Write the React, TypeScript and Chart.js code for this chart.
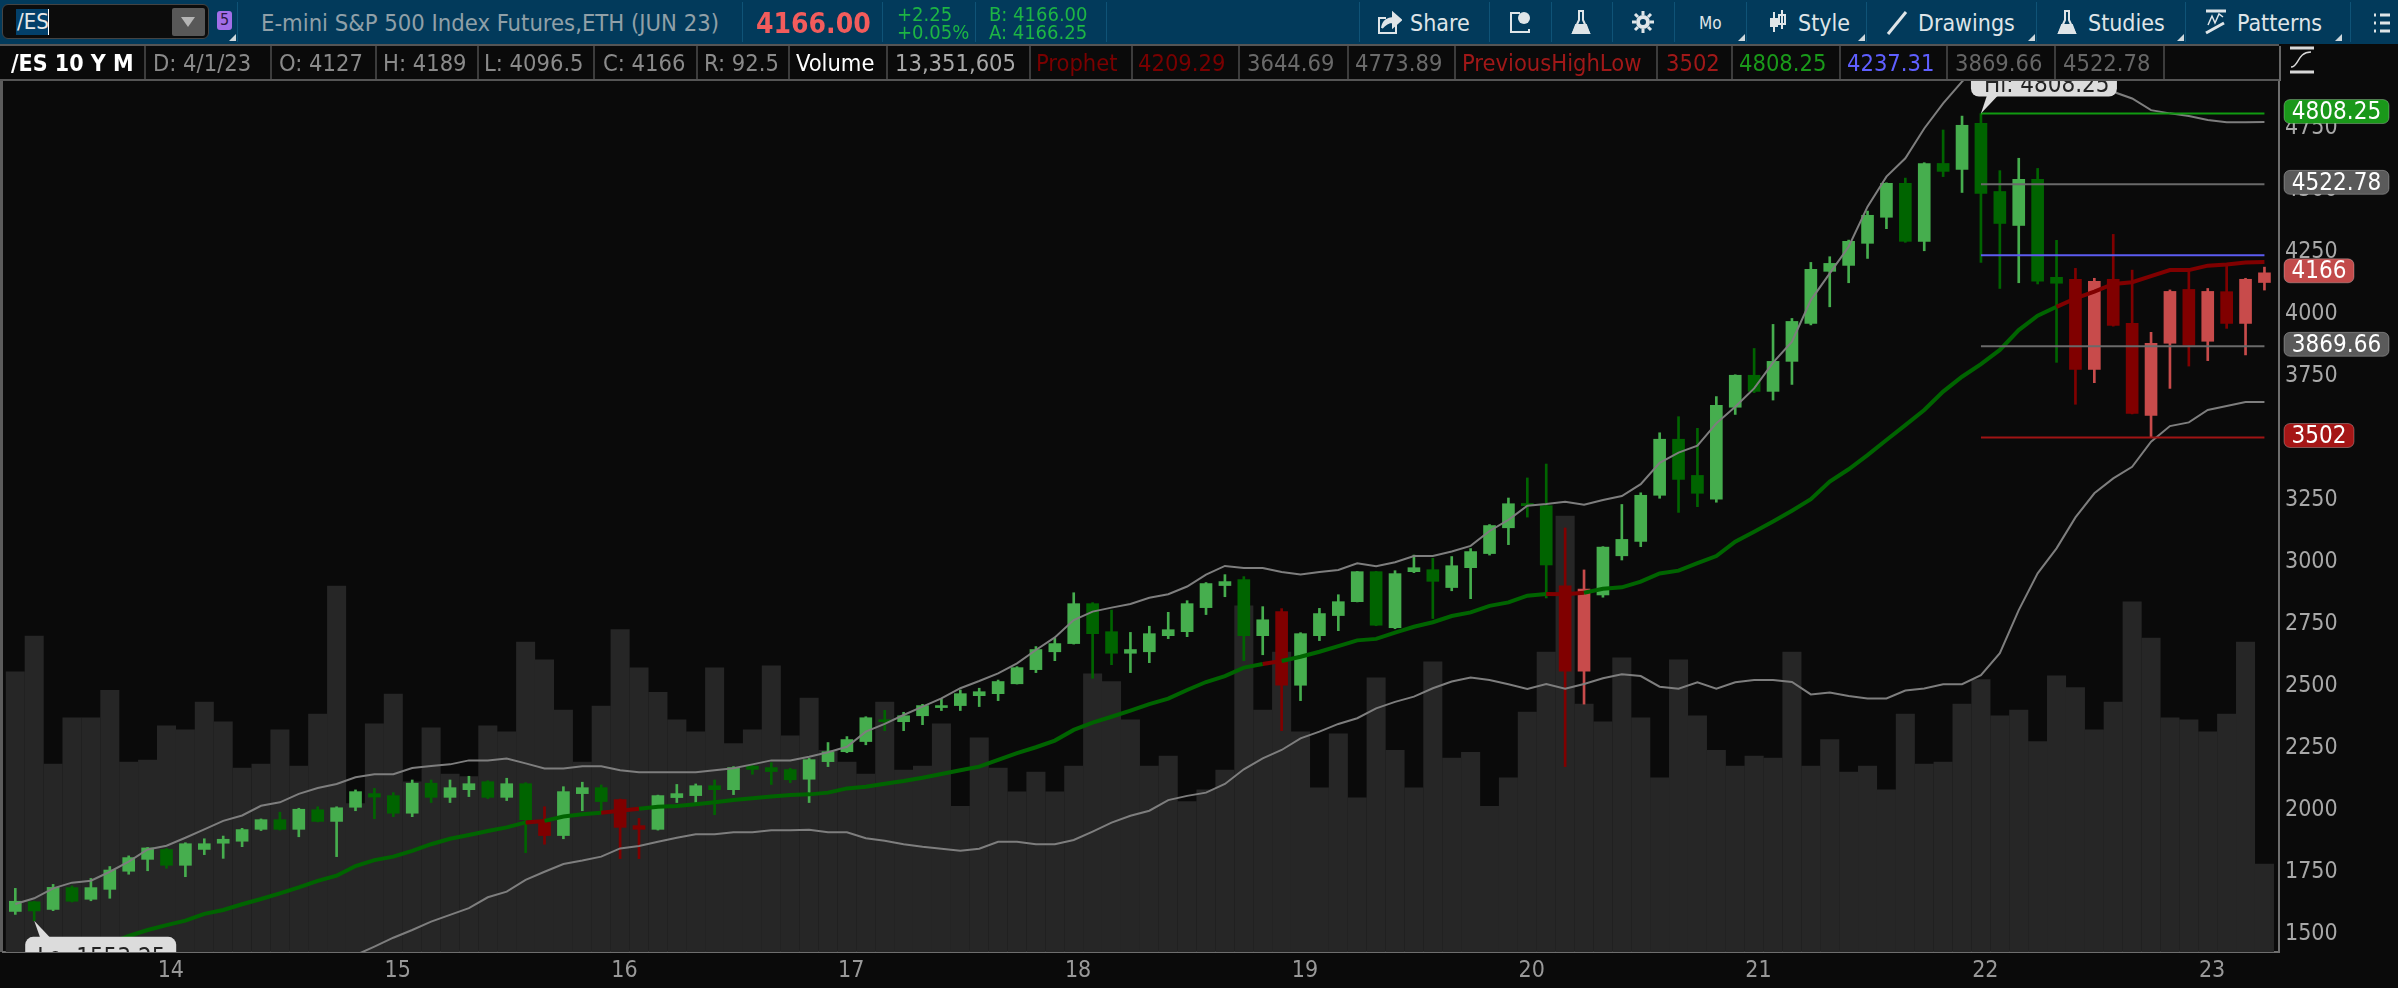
import React, { useEffect, useRef } from "react";
import { Chart, registerables } from "chart.js";

Chart.register(...registerables);

const opens = [
  1591,1630,1599,1687,1640,1680,1753,1801,1841,1777,
  1841,1866,1874,1922,1961,1922,2001,1954,2011,2066,
  2058,1987,2108,2051,2082,2114,2051,2106,1950,1897,
  2066,2090,2042,1937,1922,2050,2058,2098,2082,2177,
  2171,2163,2124,2195,2235,2276,2364,2356,2380,2413,
  2421,2461,2469,2509,2566,2638,2671,2832,2719,2632,
  2638,2703,2719,2816,2905,2929,2703,2800,2503,2703,
  2784,2840,2961,2735,2961,2969,2897,2977,3034,3138,
  3236,3227,2904,2560,2867,3025,3083,3269,3495,3349,
  3253,3624,3753,3688,3809,3962,4172,4196,4285,4390,
  4527,4293,4607,4583,4769,4494,4357,4543,4148,4140,
  3777,4140,3962,3591,3882,4099,3890,4090,3962,4127,
];
const highs = [
  1684,1632,1700,1694,1724,1772,1815,1849,1845,1868,
  1884,1895,1926,1964,1991,2007,2013,2013,2081,2087,
  2070,2121,2121,2121,2136,2118,2128,2110,2013,2094,
  2112,2101,2044,1966,2060,2103,2105,2121,2175,2181,
  2191,2168,2208,2272,2296,2376,2402,2394,2426,2448,
  2484,2491,2524,2578,2659,2692,2876,2836,2806,2716,
  2741,2797,2844,2917,2949,2941,2820,2812,2715,2813,
  2868,2962,2962,2965,3028,3015,3022,3054,3151,3258,
  3339,3395,3137,2968,3062,3232,3279,3521,3586,3539,
  3667,3755,3861,3958,3982,4208,4231,4298,4415,4529,
  4548,4610,4742,4798,4808.25,4578,4628,4587,4297,4184,
  4144,4321,4177,3926,4097,4175,4103,4193,4144,4189,
];
const lows = [
  1579,1553.25,1594,1629,1634,1644,1741,1755,1765,1731,
  1820,1805,1852,1917,1919,1892,1952,1812,1997,1965,
  1973,1973,2030,2030,2054,2046,2038,1828,1862,1884,
  1997,1987,1804,1804,1919,2030,2031,1981,2062,2144,
  2103,2110,2030,2175,2231,2263,2320,2320,2344,2401,
  2401,2417,2441,2508,2554,2602,2669,2531,2586,2554,
  2594,2691,2699,2788,2860,2602,2626,2320,2441,2683,
  2723,2839,2743,2731,2957,2772,2884,2852,3028,3070,
  3181,2855,2175,2427,2858,3008,3062,3257,3200,3223,
  3241,3595,3683,3653,3716,3956,4029,4126,4224,4344,
  4289,4255,4554,4490,4208,4103,4126,4121,3805,3636,
  3723,3951,3597,3502,3700,3790,3812,3942,3835,4096.5,
];
const closes = [
  1632,1593,1688,1632,1687,1758,1808,1847,1777,1864,
  1864,1882,1921,1961,1922,2003,1954,2009,2074,2052,
  1987,2108,2051,2090,2106,2051,2106,1961,1897,2074,
  2090,2034,1930,1922,2058,2066,2098,2082,2171,2164,
  2155,2122,2203,2235,2284,2372,2356,2380,2421,2421,
  2469,2477,2518,2574,2647,2671,2832,2711,2632,2647,
  2711,2727,2832,2913,2921,2703,2767,2503,2711,2792,
  2840,2961,2745,2953,2977,2922,2985,3042,3147,3235,
  3227,2988,2560,2891,3060,3091,3269,3495,3333,3277,
  3632,3753,3688,3809,3970,4180,4204,4293,4398,4527,
  4293,4607,4575,4761,4486,4365,4543,4132,4124,3777,
  4132,3954,3599,3882,4091,3874,4091,3962,4140,4166,
];
const volumes = [
  42.5,47.9,28.5,35.5,35.5,39.7,28.8,29.1,34.3,33.7,
  37.9,34.9,27.9,28.5,33.7,28.2,36.1,55.5,22.5,34.6,
  39.1,25.8,34.0,27.0,26.6,34.3,33.4,47.0,44.3,36.7,
  28.8,37.3,48.9,43.1,39.4,35.2,33.4,43.1,31.6,33.7,
  43.4,32.8,38.5,30.6,28.8,27.0,37.9,27.6,28.2,34.6,
  22.1,32.5,27.9,24.3,27.3,24.3,28.2,42.2,41.0,35.2,
  28.2,29.7,22.8,24.6,27.6,52.5,36.7,45.5,33.4,24.9,
  33.1,23.4,41.6,30.6,24.9,44.0,29.4,30.3,22.1,26.4,
  36.4,45.5,66.1,37.6,34.9,44.6,35.5,26.4,44.3,35.8,
  30.6,28.2,29.7,29.4,45.5,28.2,32.2,27.3,28.2,24.6,
  36.1,28.5,28.8,37.6,41.3,35.8,36.7,31.9,41.9,40.1,
  33.7,37.9,53.1,47.6,35.5,35.2,33.4,36.1,47.0,13.351605,
];
const upperBand = [
  1621,1644,1684,1707,1715,1751,1792,1841,1856,1888,
  1922,1956,1978,2017,2031,2065,2089,2105,2132,2144,
  2144,2169,2177,2184,2200,2200,2208,2188,2167,2167,
  2176,2176,2160,2152,2152,2152,2152,2160,2168,2184,
  2200,2200,2215,2233,2255,2316,2347,2383,2417,2450,
  2491,2520,2551,2591,2645,2696,2766,2800,2816,2831,
  2856,2870,2901,2949,2984,2976,2976,2960,2950,2960,
  2968,2995,2983,2999,3024,3024,3042,3065,3125,3170,
  3227,3234,3243,3231,3250,3266,3314,3400,3441,3469,
  3559,3626,3700,3804,3888,4056,4164,4271,4433,4554,
  4628,4748,4849,4937,5010,5070,5100,5110,5090,5050,
  4990,4896,4869,4822,4809,4798,4782,4773,4773,4773.89,
];
const midBand = [
  1375,1395,1409,1425,1442,1462,1492,1516,1536,1554,
  1581,1597,1620,1641,1664,1688,1714,1735,1774,1798,
  1812,1835,1862,1884,1899,1915,1930,1950,1956,1974,
  1983,1989,1997,2005,2013,2016,2023,2031,2040,2047,
  2054,2060,2063,2070,2087,2094,2106,2117,2130,2145,
  2160,2175,2202,2229,2253,2280,2323,2352,2376,2401,
  2427,2449,2484,2516,2540,2574,2589,2601,2618,2638,
  2661,2684,2690,2715,2739,2757,2782,2797,2823,2837,
  2864,2871,2870,2876,2892,2898,2921,2954,2965,2995,
  3024,3082,3122,3163,3207,3253,3324,3374,3431,3492,
  3552,3613,3687,3747,3798,3855,3935,3993,4029,4063,
  4090,4121,4128,4153,4177,4177,4195,4200,4208,4209.29,
];
const lowerBand = [
  1129,1146,1134,1143,1169,1173,1192,1191,1216,1220,
  1240,1238,1262,1265,1297,1311,1339,1365,1415,1449,
  1485,1516,1550,1577,1604,1648,1671,1718,1751,1782,
  1796,1812,1845,1855,1872,1888,1902,1902,1910,1910,
  1918,1918,1920,1910,1910,1886,1876,1862,1852,1844,
  1836,1844,1872,1872,1862,1862,1879,1913,1949,1977,
  1997,2040,2057,2070,2105,2164,2208,2242,2289,2316,
  2347,2370,2410,2436,2457,2491,2518,2534,2524,2507,
  2488,2508,2489,2508,2531,2547,2540,2497,2489,2515,
  2489,2515,2524,2524,2516,2466,2474,2460,2450,2450,
  2482,2490,2507,2507,2544,2632,2806,2954,3055,3180,
  3277,3337,3384,3485,3548,3563,3613,3629,3645,3644.69,
];
const redMonths = [28,32,33,67,82,83,109,110,111,112,113,114,115,116,117,118,119];
const priceTicks = [1500,1750,2000,2250,2500,2750,3000,3250,3500,3750,4000,4250,4500,4750];
const yearLabels = ["14","15","16","17","18","19","20","21","22","23"];
const yearStartIndex = [8,20,32,44,56,68,80,92,104,116];
const levelValues = [4808.25, 4522.78, 4237.31, 3869.66, 3502];
const levelColors = ["#109a10", "#6a6a6a", "#5c5cf0", "#6a6a6a", "#a01414"];
const levelFrom = 104;
const tagValues = [4808.25, 4522.78, 4166, 3869.66, 3502];
const tagTexts = ["4808.25", "4522.78", "4166", "3869.66", "3502"];
const tagColors = ["#1a981a", "#5a5a5a", "#c24a4a", "#5a5a5a", "#a51616"];

const FONT = '"DejaVu Sans Condensed", "DejaVu Sans", sans-serif';
const LIGHT_GREEN = "#46ae4e";
const DARK_GREEN = "#006400";
const DARK_RED = "#800000";
const LIGHT_RED = "#c84b4b";

const isRed = (i: number) => redMonths.includes(i);
const candleColor = (i: number) => {
  const up = closes[i] >= opens[i];
  if (isRed(i)) return up ? LIGHT_RED : DARK_RED;
  return up ? LIGHT_GREEN : DARK_GREEN;
};

function roundRect(c: CanvasRenderingContext2D, x: number, y: number, w: number, h: number, r: number) {
  c.beginPath();
  c.moveTo(x + r, y);
  c.arcTo(x + w, y, x + w, y + h, r);
  c.arcTo(x + w, y + h, x, y + h, r);
  c.arcTo(x, y + h, x, y, r);
  c.arcTo(x, y, x + w, y, r);
  c.closePath();
}

const chromePlugin = {
  id: "chrome",
  beforeDraw(chart: any) {
    const c = chart.ctx;
    c.save();
    c.fillStyle = "#0a0a0a";
    c.fillRect(0, 0, chart.width, chart.height);
    const a = chart.chartArea;
    c.fillStyle = "#5c5c5c";
    c.fillRect(0, a.top, 3, a.bottom - a.top);
    c.restore();
  },
  afterDatasetsDraw(chart: any) {
    const c = chart.ctx;
    const a = chart.chartArea;
    const xs = chart.scales.x;
    const ys = chart.scales.y;
    c.save();
    c.beginPath();
    c.rect(a.left, a.top, a.right - a.left, a.bottom - a.top);
    c.clip();
    const hiI = highs.indexOf(Math.max(...highs));
    const loI = lows.indexOf(Math.min(...lows));
    const hx = xs.getPixelForValue(hiI);
    const hy = ys.getPixelForValue(highs[hiI]);
    const lx = xs.getPixelForValue(loI);
    const ly = ys.getPixelForValue(lows[loI]);
    c.fillStyle = "#dcdcdc";
    roundRect(c, hx - 10, hy - 47, 146, 30, 8);
    c.fill();
    c.beginPath();
    c.moveTo(hx, hy);
    c.lineTo(hx + 6, hy - 18);
    c.lineTo(hx + 17, hy - 18);
    c.fill();
    roundRect(c, lx - 9, ly + 16, 151, 32, 8);
    c.fill();
    c.beginPath();
    c.moveTo(lx, ly);
    c.lineTo(lx + 6, ly + 17);
    c.lineTo(lx + 16, ly + 17);
    c.fill();
    c.fillStyle = "#222";
    c.font = `24px ${FONT}`;
    c.textAlign = "left";
    c.textBaseline = "alphabetic";
    c.fillText(`Hi: ${highs[hiI]}`, hx + 3, hy - 22);
    c.fillText(`Lo: ${lows[loI]}`, lx + 3, ly + 44);
    c.restore();
  },
  afterDraw(chart: any) {
    const c = chart.ctx;
    const ys = chart.scales.y;
    c.save();
    c.font = `24px ${FONT}`;
    c.textAlign = "center";
    c.textBaseline = "middle";
    tagValues.forEach((v, i) => {
      const cy = ys.getPixelForValue(v) - 2;
      const w = tagTexts[i].length > 4 ? 105 : 70;
      c.fillStyle = tagColors[i];
      roundRect(c, 2284, cy - 12, w, 24, 6);
      c.fill();
      c.strokeStyle = "rgba(255,255,255,0.28)";
      c.lineWidth = 1;
      c.stroke();
      c.fillStyle = "#ffffff";
      c.fillText(tagTexts[i], 2284 + w / 2, cy + 1);
    });
    c.restore();
  },
};

const at = (i: number, y: number | number[]) => ({ x: i, y });

function T({ x, y, size = 23.5, color = "#8a8a8a", weight = 400, children, w }: any) {
  return (
    <div
      style={{
        position: "absolute",
        left: x,
        top: y - 20,
        height: 40,
        lineHeight: "40px",
        fontSize: size,
        color,
        fontWeight: weight,
        fontFamily: FONT,
        whiteSpace: "nowrap",
        width: w,
      }}
    >
      {children}
    </div>
  );
}

const Box = ({ x, y, w, h, bg, r, extra }: any) => (
  <div style={{ position: "absolute", left: x, top: y, width: w, height: h, background: bg, borderRadius: r, ...extra }} />
);

const Corner = ({ x }: any) => (
  <svg style={{ position: "absolute", left: x, top: 34 }} width="7" height="7">
    <path d="M7 0 L7 7 L0 7 Z" fill="#cfd8dc" />
  </svg>
);

const Icon = ({ x, y, w, h, children }: any) => (
  <svg
    style={{ position: "absolute", left: x, top: y }}
    width={w}
    height={h}
    viewBox={`0 0 ${w} ${h}`}
    fill="none"
    stroke="#dfe5e8"
    strokeWidth="2"
  >
    {children}
  </svg>
);

const topDividers = [237, 742, 882, 975, 1106, 1359, 1489, 1551, 1612, 1674, 1746, 1866, 2036, 2185, 2350];
const cellDividers = [144, 270, 375, 477, 593, 696, 788, 886, 1029, 1131, 1238, 1347, 1454, 1656, 1731, 1839, 1946, 2054, 2163];

function Header() {
  return (
    <>
      <Box x={0} y={0} w={2398} h={44} bg="#023a5b" />
      <Box x={0} y={44} w={2279} h={2} bg="#555" />
      <Box x={0} y={79} w={2279} h={2} bg="#555" />
      {topDividers.map((x) => (
        <Box key={x} x={x} y={2} w={1} h={40} bg="#0f5377" />
      ))}
      {cellDividers.map((x) => (
        <Box key={x} x={x} y={46} w={2} h={33} bg="#3c3c3c" />
      ))}
      <Box x={2279} y={46} w={2} h={35} bg="#666" />

      <Box x={2} y={4} w={207} h={35} bg="#0c0c0c" r={6} extra={{ border: "1px solid #444", boxSizing: "border-box" }} />
      <Box x={16} y={9} w={33} h={26} bg="#03406a" />
      <Box x={48} y={9} w={1} h={26} bg="#fff" />
      <T x={17} y={22} size={22} color="#e8e8e8">/ES</T>
      <Box x={172} y={8} w={33} h={28} bg="#585858" r={2} />
      <svg style={{ position: "absolute", left: 181, top: 17 }} width="14" height="10">
        <path d="M0 0 L14 0 L7 10 Z" fill="#b5b5b5" />
      </svg>
      <Box x={217} y={11} w={15} h={19} bg="#a26ee8" r={3} />
      <T x={220} y={20} size={16} color="#2a1846">5</T>
      <Corner x={229} />

      <T x={261} y={23} size={23.6} color="#90a0a8">E-mini S&amp;P 500 Index Futures,ETH (JUN 23)</T>
      <T x={756} y={24} size={28} weight={700} color="#f25c5c">4166.00</T>
      <T x={897} y={14} size={20} color="#1db544">+2.25</T>
      <T x={897} y={32} size={20} color="#1db544">+0.05%</T>
      <T x={989} y={14} size={20} color="#1db544">B: 4166.00</T>
      <T x={989} y={32} size={20} color="#1db544">A: 4166.25</T>

      <Icon x={1376} y={10} w={26} h={26}>
        <path d="M20 15 V23 H3 V8 H10" />
        <path d="M6 18 C7 11 12 8 17 8 V3 L25 10 L17 17 V12 C13 12 9 14 6 18 Z" fill="#dfe5e8" />
      </Icon>
      <T x={1410} y={23} size={23} color="#dfe5e8">Share</T>
      <Icon x={1508} y={9} w={24} h={26}>
        <path d="M12 4 H3 V23 H21 V20" />
        <circle cx="16" cy="9" r="6" fill="#dfe5e8" stroke="none" />
      </Icon>
      <Icon x={1570} y={8} w={22} h={28}>
        <path d="M8 3 H14 M9 3 V12 L3 25 H19 L13 12 V3" />
        <path d="M6 17 H16 L19 25 H3 Z" fill="#dfe5e8" />
      </Icon>
      <Icon x={1631} y={10} w={24} h={24}>
        <circle cx="12" cy="12" r="5" strokeWidth="4" />
        <path d="M12 1 V5 M12 19 V23 M1 12 H5 M19 12 H23 M4 4 L7 7 M17 17 L20 20 M20 4 L17 7 M7 17 L4 20" strokeWidth="3" />
      </Icon>
      <T x={1699} y={23} size={17} color="#dfe5e8">Mo</T>
      <Corner x={1738} />
      <Icon x={1768} y={9} w={20} h={26}>
        <path d="M6 3 V23 M14 1 V20" />
        <rect x="2" y="9" width="8" height="9" fill="#dfe5e8" stroke="none" />
        <rect x="11" y="6" width="6" height="9" />
      </Icon>
      <T x={1798} y={23} size={23} color="#dfe5e8">Style</T>
      <Corner x={1858} />
      <Icon x={1886} y={11} w={22} h={24}>
        <path d="M2 23 L20 1" strokeWidth="3" />
      </Icon>
      <T x={1918} y={23} size={23} color="#dfe5e8">Drawings</T>
      <Corner x={2028} />
      <Icon x={2056} y={8} w={22} h={28}>
        <path d="M8 3 H14 M9 3 V12 L3 25 H19 L13 12 V3" />
        <path d="M6 17 H16 L19 25 H3 Z" fill="#dfe5e8" />
      </Icon>
      <T x={2088} y={23} size={23} color="#dfe5e8">Studies</T>
      <Corner x={2177} />
      <Icon x={2204} y={9} w={24} h={26}>
        <path d="M2 2 H22" strokeWidth="3" />
        <path d="M4 16 L8 7 L11 14 L15 5 L19 8" strokeWidth="1.5" />
        <path d="M2 24 L20 14" strokeWidth="3" />
      </Icon>
      <T x={2237} y={23} size={23} color="#dfe5e8">Patterns</T>
      <Corner x={2335} />
      <Icon x={2372} y={12} w={20} h={22}>
        <path d="M2 3 H4 M8 3 H18 M2 11 H4 M8 11 H18 M2 19 H4 M8 19 H18" strokeWidth="3" />
      </Icon>

      <T x={11} y={63} size={23} weight={700} color="#ffffff">/ES 10 Y M</T>
      <T x={153} y={63}>D: 4/1/23</T>
      <T x={279} y={63}>O: 4127</T>
      <T x={383} y={63}>H: 4189</T>
      <T x={484} y={63}>L: 4096.5</T>
      <T x={603} y={63}>C: 4166</T>
      <T x={704} y={63}>R: 92.5</T>
      <T x={796} y={63} color="#ffffff">Volume</T>
      <T x={895} y={63} color="#a8a8a8">13,351,605</T>
      <T x={1036} y={63} color="#7a0000">Prophet</T>
      <T x={1138} y={63} color="#7a0000">4209.29</T>
      <T x={1247} y={63} color="#6a6a6a">3644.69</T>
      <T x={1355} y={63} color="#6a6a6a">4773.89</T>
      <T x={1462} y={63} color="#a01818">PreviousHighLow</T>
      <T x={1666} y={63} color="#a01818">3502</T>
      <T x={1739} y={63} color="#1a9a1a">4808.25</T>
      <T x={1847} y={63} color="#5f5fff">4237.31</T>
      <T x={1955} y={63} color="#666">3869.66</T>
      <T x={2063} y={63} color="#666">4522.78</T>

      <svg style={{ position: "absolute", left: 2289, top: 45 }} width="27" height="30" fill="none" stroke="#d8d8d8">
        <path d="M1 3 H25 M1 27 H25" strokeWidth="3" />
        <path d="M2 22 C10 22 8 7 22 7" strokeWidth="1.5" />
      </svg>
    </>
  );
}

export default function App() {
  const ref = useRef<HTMLCanvasElement | null>(null);
  useEffect(() => {
    if (!ref.current) return;
    const idx = opens.map((_, i) => i);
    const line = (label: string, values: number[], color: string, width: number, order: number) => ({
      type: "line" as const,
      label,
      data: idx.map((i) => at(i, values[i])),
      borderColor: color,
      borderWidth: width,
      pointRadius: 0,
      tension: 0,
      yAxisID: "y",
      order,
    });
    const chart = new Chart(ref.current, {
      type: "bar",
      data: {
        datasets: [
          ...levelValues.map((v, k) => ({
            type: "line" as const,
            label: `Level ${v}`,
            data: idx.filter((i) => i >= levelFrom).map((i) => at(i, v)),
            borderColor: levelColors[k],
            borderWidth: 2,
            pointRadius: 0,
            yAxisID: "y",
            order: 1,
          })),
          line("Upper", upperBand, "#7e7e7e", 2, 2),
          line("Lower", lowerBand, "#7e7e7e", 2, 2),
          {
            ...line("Prophet", midBand, DARK_GREEN, 4, 3),
            segment: {
              borderColor: (s: any) => (isRed(s.p1DataIndex) ? DARK_RED : DARK_GREEN),
            },
          },
          {
            type: "bar" as const,
            label: "Body",
            data: idx.map((i) => at(i, [Math.min(opens[i], closes[i]), Math.max(opens[i], closes[i])])),
            backgroundColor: idx.map(candleColor),
            barThickness: 12,
            grouped: false,
            yAxisID: "y",
            order: 4,
          },
          {
            type: "bar" as const,
            label: "Wick",
            data: idx.map((i) => at(i, [lows[i], highs[i]])),
            backgroundColor: idx.map(candleColor),
            barThickness: 2,
            grouped: false,
            yAxisID: "y",
            order: 5,
          },
          {
            type: "bar" as const,
            label: "Volume",
            data: idx.map((i) => at(i, volumes[i])),
            backgroundColor: "#262626",
            barThickness: 18.4,
            grouped: false,
            yAxisID: "vol",
            order: 6,
          },
        ] as any,
      },
      options: {
        responsive: false,
        devicePixelRatio: 1,
        animation: false,
        layout: { padding: { left: 3, top: 81, right: 0, bottom: 0 } },
        plugins: { legend: { display: false }, tooltip: { enabled: false } },
        scales: {
          x: {
            type: "linear",
            position: "bottom",
            offset: false,
            min: -0.651,
            max: 119.77,
            grid: { display: false, drawTicks: false, offset: false },
            border: { display: true, color: "#6e6e6e", width: 2 },
            ticks: {
              autoSkip: false,
              maxRotation: 0,
              padding: 5,
              color: "#999999",
              font: { family: FONT, size: 23 },
              callback: (_v: any, i: number) => yearLabels[i],
            },
            afterBuildTicks: (s: any) => {
              s.ticks = yearStartIndex.map((v) => ({ value: v + 0.23 }));
            },
            afterFit: (s: any) => {
              s.height = 36;
            },
          },
          y: {
            type: "linear",
            position: "right",
            min: 1427.4,
            max: 4939.5,
            grid: { display: false, drawTicks: false },
            border: { display: true, color: "#6e6e6e", width: 2 },
            ticks: {
              autoSkip: false,
              padding: 6,
              color: "#a8a8a8",
              font: { family: FONT, size: 23 },
              callback: (v: any) => String(v),
            },
            afterBuildTicks: (s: any) => {
              s.ticks = priceTicks.map((v) => ({ value: v }));
            },
            afterFit: (s: any) => {
              s.width = 119;
            },
          },
          vol: {
            type: "linear",
            display: false,
            min: 0,
            max: 132.1,
          },
        },
      } as any,
      plugins: [chromePlugin as any],
    });
    return () => chart.destroy();
  }, []);
  return (
    <div style={{ position: "absolute", left: 0, top: 0, width: 2398, height: 988, overflow: "hidden", background: "#0a0a0a" }}>
      <canvas ref={ref} width={2398} height={988} style={{ position: "absolute", left: 0, top: 0, display: "block" }} />
      <Header />
    </div>
  );
}
